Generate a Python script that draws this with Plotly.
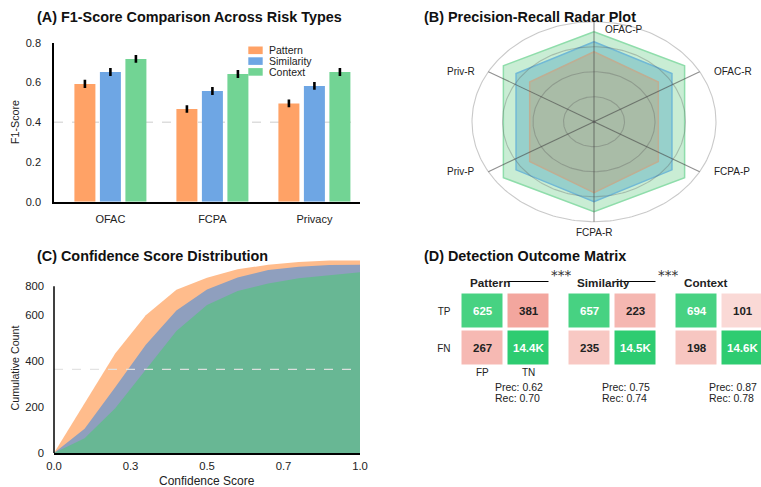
import numpy as np
import plotly.graph_objects as go

W, H = 761, 487
FONT = "Liberation Sans"
TXT = "#222222"


def fx(px):
    return px / W


def fy(py):
    return 1 - py / H


# ---------------- data ----------------
risk_types = ["OFAC", "FCPA", "Privacy"]
methods = ["Pattern", "Similarity", "Context"]

f1_pattern = [0.593, 0.467, 0.495]
f1_similarity = [0.653, 0.557, 0.583]
f1_context = [0.719, 0.643, 0.653]
f1_err_pattern = [0.021, 0.019, 0.019]
f1_err_similarity = [0.020, 0.020, 0.020]
f1_err_context = [0.020, 0.020, 0.020]
f1_reference = 0.4

radar_axes = ["OFAC-P", "OFAC-R", "FCPA-P", "FCPA-R", "Priv-P", "Priv-R"]
radar_pattern = [0.70, 0.66, 0.66, 0.71, 0.66, 0.66]
radar_similarity = [0.80, 0.80, 0.80, 0.80, 0.80, 0.80]
radar_context = [0.90, 0.93, 0.93, 0.90, 0.93, 0.93]

confidence = [0.0, 0.1, 0.2, 0.3, 0.4, 0.5, 0.6, 0.7, 0.8, 0.9, 1.0]
cum_pattern = [0, 216, 432, 598, 708, 761, 797, 817, 829, 835, 836]
cum_similarity = [0, 105, 285, 470, 618, 710, 762, 794, 808, 816, 817]
cum_context = [0, 64, 194, 360, 529, 642, 703, 736, 758, 772, 784]
conf_reference = 363
conf_y_ticks = [0, 200, 400, 600, 724]
conf_y_labels = ["0", "200", "400", "600", "800"]
conf_x_ticks = [0.0, 0.25, 0.5, 0.75, 1.0]
conf_x_labels = ["0.0", "0.3", "0.5", "0.7", "1.0"]

outcome_tp = [625, 657, 694]
outcome_fp = [381, 223, 101]
outcome_fn = [267, 235, 198]
outcome_tn = [14400, 14500, 14600]
significance = ["***", "***"]

# ---------------- styles ----------------
C_PATTERN = "#FFA266"
C_SIMILARITY = "#6EA6E4"
C_CONTEXT = "#72D494"

AREA_FILL = {"Pattern": "#FFBC8C", "Similarity": "#8F9FBE", "Context": "#68B794"}
RADAR_FILL = {"Pattern": "#A9BCA7", "Similarity": "#97D0CB", "Context": "#C9EDD4"}
RADAR_EDGE = {"Pattern": "#BFAE93", "Similarity": "#71B9D6", "Context": "#8FDDAB"}

# alpha of the emerald / alizarin tints used in the outcome cells
TP_ALPHA = 0.88
FP_ALPHA = [0.50, 0.40, 0.21]
FN_ALPHA = [0.39, 0.31, 0.32]


def tint(hex_color, alpha):
    h = hex_color.lstrip("#")
    r, g, b = (int(h[i:i + 2], 16) for i in (0, 2, 4))
    mix = lambda c: int(round(alpha * c + (1 - alpha) * 255))
    return f"rgb({mix(r)},{mix(g)},{mix(b)})"


GOOD = "#2ECC71"
BAD = "#E74C3C"


def note(fig, text, x, y, size=11, color=TXT, xanchor="center", yanchor="middle",
         xref="paper", yref="paper", family=FONT, **kw):
    fig.add_annotation(x=x, y=y, xref=xref, yref=yref, text=text, showarrow=False,
                       xanchor=xanchor, yanchor=yanchor,
                       font=dict(size=size, color=color, family=family), **kw)


fig = go.Figure()

# ================= (A) grouped bars =================
for name, vals, errs, col in [
    ("Pattern", f1_pattern, f1_err_pattern, C_PATTERN),
    ("Similarity", f1_similarity, f1_err_similarity, C_SIMILARITY),
    ("Context", f1_context, f1_err_context, C_CONTEXT),
]:
    fig.add_trace(go.Bar(
        x=risk_types, y=vals, name=name, marker=dict(color=col, line=dict(width=0)),
        error_y=dict(type="data", array=errs, color="black", thickness=2.6, width=0),
        xaxis="x", yaxis="y", showlegend=False,
    ))

fig.add_shape(type="line", xref="x domain", yref="y", x0=0, x1=1,
              y0=f1_reference, y1=f1_reference, layer="below",
              line=dict(color="#DDDDDD", width=1.5, dash="dash"))

# hand-placed legend for panel A
for i, (name, col) in enumerate([("Pattern", C_PATTERN), ("Similarity", C_SIMILARITY),
                                  ("Context", C_CONTEXT)]):
    cy = 50.3 + i * 10.8
    fig.add_shape(type="rect", xref="paper", yref="paper",
                  x0=fx(248.3), x1=fx(262.7), y0=fy(cy + 3.8), y1=fy(cy - 3.8),
                  fillcolor=col, line=dict(width=0))
    note(fig, name, fx(266.5), fy(cy), size=10.5, xanchor="left")

# ================= (C) cumulative areas =================
for name, vals in [("Pattern", cum_pattern), ("Similarity", cum_similarity),
                   ("Context", cum_context)]:
    fig.add_trace(go.Scatter(
        x=confidence, y=vals, mode="lines", fill="tozeroy",
        fillcolor=AREA_FILL[name], line=dict(width=0, color=AREA_FILL[name]),
        xaxis="x2", yaxis="y2", showlegend=False, name=name,
    ))

fig.add_shape(type="line", xref="x2 domain", yref="y2", x0=0, x1=1,
              y0=conf_reference, y1=conf_reference, layer="above",
              line=dict(color="rgba(225,225,225,0.95)", width=1.3, dash="dash"))
# left spine stops at the top tick
fig.add_shape(type="line", xref="x2 domain", yref="y2", x0=0, x1=0,
              y0=0, y1=conf_y_ticks[-1], layer="above",
              line=dict(color="black", width=1.5))

# ================= (B) radar =================
spoke_deg = np.array([90 - 60 * k for k in range(6)], dtype=float)
vertex_deg = np.array([90, 37, -37, -90, -143, 143], dtype=float)


def polygon(values):
    r = np.array(values + values[:1], dtype=float)
    a = np.deg2rad(np.append(vertex_deg, vertex_deg[0]))
    return r * np.cos(a), r * np.sin(a)


for name, vals in [("Context", radar_context), ("Similarity", radar_similarity),
                   ("Pattern", radar_pattern)]:
    px_, py_ = polygon(vals)
    fig.add_trace(go.Scatter(
        x=px_, y=py_, mode="lines", fill="toself", fillcolor=RADAR_FILL[name],
        line=dict(color=RADAR_EDGE[name], width=1.5),
        xaxis="x3", yaxis="y3", showlegend=False, name=name, hoverinfo="skip",
    ))

theta = np.linspace(0, 2 * np.pi, 241)
for rr in [0.25, 0.5, 0.75, 1.0]:
    fig.add_trace(go.Scatter(
        x=rr * np.cos(theta), y=rr * np.sin(theta), mode="lines",
        line=dict(color="rgba(90,90,90,0.33)", width=1.1),
        xaxis="x3", yaxis="y3", showlegend=False, hoverinfo="skip",
    ))
for d in spoke_deg:
    a = np.deg2rad(d)
    fig.add_trace(go.Scatter(
        x=[0, np.cos(a)], y=[0, np.sin(a)], mode="lines",
        line=dict(color="rgba(70,70,70,0.6)", width=1.1),
        xaxis="x3", yaxis="y3", showlegend=False, hoverinfo="skip",
    ))
fig.add_trace(go.Scatter(x=[0], y=[0], mode="markers",
                         marker=dict(size=3, color="rgba(90,90,90,0.6)"),
                         xaxis="x3", yaxis="y3", showlegend=False, hoverinfo="skip"))

for label, d in zip(radar_axes, spoke_deg):
    a = np.deg2rad(d)
    cx, cy = float(np.cos(a)), float(np.sin(a))
    kw = dict(xref="x3", yref="y3", size=10)
    if d == 90:
        note(fig, label, cx, cy, xanchor="left", xshift=9, yshift=-8, **kw)
    elif d == -90:
        note(fig, label, cx, cy, yanchor="top", yshift=-3, **kw)
    elif cx > 0:
        note(fig, label, cx, cy, xanchor="left", xshift=12, **kw)
    else:
        note(fig, label, cx, cy, xanchor="right", xshift=-11, **kw)

# ================= (D) outcome matrix =================
CELL = 46.0    # cell pitch
GROUP = 107.0  # block pitch
edges = []
z_idx = [[], []]
colors = []
cell_text = []
for m in range(3):
    base = m * GROUP
    if m > 0:
        z_idx[0].append(None)
        z_idx[1].append(None)
    edges.extend([base, base + CELL])
    grid = [[outcome_tp[m], outcome_fp[m]], [outcome_fn[m], outcome_tn[m]]]
    cell_cols = [[tint(GOOD, TP_ALPHA), tint(BAD, FP_ALPHA[m])],
                 [tint(BAD, FN_ALPHA[m]), GOOD]]
    for c in range(2):
        for r in range(2):
            k = len(colors)
            colors.append(cell_cols[r][c])
            z_idx[r].append(k)
            cell_text.append((base + (c + 0.5) * CELL, r + 0.5, grid[r][c], r == c))
    edges.append(base + 2 * CELL)

nC = len(colors)
colorscale = [[i / (nC - 1), col] for i, col in enumerate(colors)]

fig.add_trace(go.Heatmap(
    x=edges, y=[0, 1, 2], z=z_idx, zmin=0, zmax=nC - 1, colorscale=colorscale,
    showscale=False, xgap=5, ygap=3, hoverinfo="skip",
    xaxis="x4", yaxis="y4",
))


def fmt_count(v):
    return f"{v / 1000:.1f}K" if v >= 10000 else f"{v}"


for xc, yc, v, good in cell_text:
    note(fig, f"<b>{fmt_count(v)}</b>", xc, yc, size=11.5, xref="x4", yref="y4",
         color="white" if good else TXT)

D_LEFT = 459.5
for m, name in enumerate(methods):
    base = m * GROUP
    note(fig, f"<b>{name}</b>", base + 8, fy(282), size=11.7, xref="x4", xanchor="left")
    prec = outcome_tp[m] / (outcome_tp[m] + outcome_fp[m])
    rec = outcome_tp[m] / (outcome_tp[m] + outcome_fn[m])
    note(fig, f"Prec: {prec:.2f}", base + 33.5, fy(387), size=10.5, xref="x4",
         xanchor="left")
    note(fig, f"Rec: {rec:.2f}", base + 33.5, fy(398), size=10.5, xref="x4",
         xanchor="left")

for m, star in enumerate(significance):
    base = m * GROUP
    fig.add_shape(type="line", xref="x4", yref="paper", x0=base + 48.3, x1=base + 89,
                  y0=fy(281.5), y1=fy(281.5), line=dict(color="black", width=1))
    note(fig, star, base + 101.5, fy(275), size=13.5, xref="x4", family="DejaVu Sans",
         color="#333333")

for c, lab in enumerate(["FP", "TN"]):
    note(fig, lab, (c + 0.5) * CELL, fy(372), size=10, xref="x4")

# ================= titles & axis titles =================
for text, x, y in [("(A) F1-Score Comparison Across Risk Types", 35, 17.3),
                   ("(B) Precision-Recall Radar Plot", 421.7, 17.3),
                   ("(C) Confidence Score Distribution", 35, 256),
                   ("(D) Detection Outcome Matrix", 421.7, 256)]:
    note(fig, f"<b>{text}</b>", fx(x), fy(y), size=14.4, color="#111111", xanchor="left")

note(fig, "F1-Score", fx(15), fy(122), size=10.7, textangle=-90)
note(fig, "Cumulative Count", fx(14.5), fy(368), size=10.7, textangle=-90)
note(fig, "Confidence Score", fx(207), fy(489.5), size=12, yanchor="bottom")

# ================= axes =================
tickA = dict(size=11, color=TXT, family=FONT)
tickC = dict(size=11.3, color=TXT, family=FONT)
tickD = dict(size=10, color=TXT, family=FONT)
A_X = [fx(54), fx(360)]
common = dict(automargin=False, showgrid=False, zeroline=False, ticks="")
fig.update_layout(
    width=W, height=H, margin=dict(l=0, r=0, t=0, b=0, autoexpand=False),
    paper_bgcolor="white", plot_bgcolor="rgba(0,0,0,0)",
    font=dict(family=FONT, color=TXT),
    barmode="group", bargap=0.25, bargroupgap=0.176,
    showlegend=False,
    xaxis=dict(domain=A_X, range=[-0.553, 2.447], showline=True, linecolor="black",
               linewidth=1.5, tickfont=tickA, ticklabelstandoff=6, anchor="y",
               **common),
    yaxis=dict(domain=[fy(201.7), fy(42.8)], range=[0, 0.8], showline=True,
               linecolor="black", linewidth=1.5, tickvals=[0, 0.2, 0.4, 0.6, 0.8],
               tickformat=".1f", tickfont=tickA, ticklabelstandoff=9, anchor="x",
               **common),
    xaxis2=dict(domain=A_X, range=[0, 1], showline=True, linecolor="black", linewidth=1.5,
                tickvals=conf_x_ticks, ticktext=conf_x_labels, tickfont=tickC,
                ticklabelstandoff=2, anchor="y2", **common),
    yaxis2=dict(domain=[fy(453), fy(259)], range=[0, 842], showline=False,
                tickvals=conf_y_ticks, ticktext=conf_y_labels, tickfont=tickC,
                ticklabelstandoff=9, anchor="x2", **common),
    xaxis3=dict(domain=[fx(452), fx(736)], range=[-1.164, 1.164], visible=False,
                anchor="y3", automargin=False),
    yaxis3=dict(domain=[fy(235), fy(10)], range=[-1.133, 1.117], visible=False,
                anchor="x3", automargin=False),
    xaxis4=dict(domain=[fx(D_LEFT), 1.0], range=[0, W - D_LEFT], visible=False,
                anchor="y4", automargin=False),
    yaxis4=dict(domain=[fy(366.5), fy(292.5)], range=[2, 0], showline=False,
                tickvals=[0.5, 1.5], ticktext=["TP", "FN"], tickfont=tickD,
                ticklabelstandoff=8, anchor="x4", **common),
)

fig.write_html("out.html")
